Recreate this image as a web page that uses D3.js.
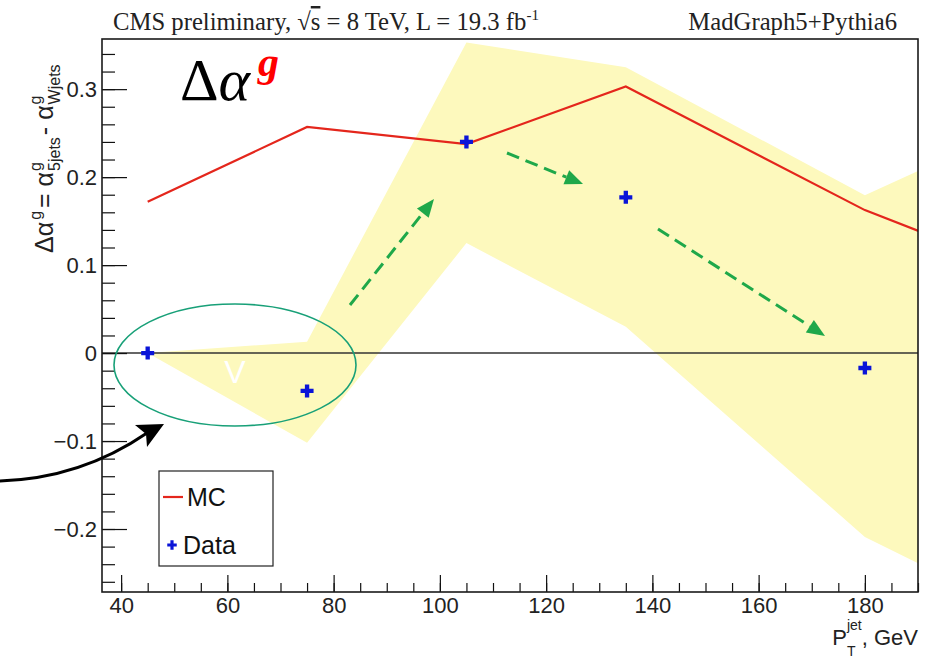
<!DOCTYPE html>
<html><head><meta charset="utf-8">
<script src="https://cdn.jsdelivr.net/npm/d3@7"></script>
<style>body{margin:0;background:#fff} svg{display:block}</style>
</head><body>
<svg id="chart" width="925" height="662"></svg>
<script>
// Jet pT bins (GeV) and measured Δα^g per bin
const ptBins = [45, 75, 105, 135, 180];
const dataValues = [0.0, -0.043, 0.240, 0.177, -0.017];
// MC prediction and its uncertainty band (the last bin lies past the axis range)
const mcPt = [45, 75, 105, 135, 180, 225];
const mcValues = [0.172, 0.257, 0.2375, 0.303, 0.1625, 0.057];
const bandUpper = [0.0, 0.013, 0.353, 0.325, 0.1795, 0.303];
const bandLower = [0.0, -0.102, 0.125, 0.030, -0.209, -0.344];
// Axis ticks
const xMajorTicks = [40, 60, 80, 100, 120, 140, 160, 180];
const xMinorTicks = d3.range(8, 39).map(i => i * 5);
const yMajorTicks = [-0.2, -0.1, 0, 0.1, 0.2, 0.3];
const yMinorTicks = d3.range(-13, 18).map(i => +(i * 0.02).toFixed(2));
// Legend entries
const legendLabels = ["MC", "Data"];

const svg = d3.select("#chart");
const frame = {left: 102, right: 918, top: 39, bottom: 592};

const x = d3.scaleLinear().domain([36.4, 190]).range([frame.left, frame.right]);
const y = d3.scaleLinear().domain([-0.2716, 0.357]).range([frame.bottom, frame.top]);

const SANS = "'Liberation Sans', Arial, sans-serif";
const SERIF = "'Liberation Serif', 'Times New Roman', serif";

svg.append("defs").append("clipPath").attr("id", "plotClip")
  .append("rect")
  .attr("x", frame.left).attr("y", frame.top)
  .attr("width", frame.right - frame.left).attr("height", frame.bottom - frame.top);

const plot = svg.append("g").attr("clip-path", "url(#plotClip)");

// Uncertainty band
const bandRows = mcPt.map((pt, i) => ({pt, lo: bandLower[i], hi: bandUpper[i]}));
plot.append("path")
  .datum(bandRows)
  .attr("fill", "#fdf9bd")
  .attr("d", d3.area().x(d => x(d.pt)).y0(d => y(d.lo)).y1(d => y(d.hi)));

// Zero line
plot.append("line")
  .attr("x1", frame.left).attr("x2", frame.right)
  .attr("y1", y(0)).attr("y2", y(0))
  .attr("stroke", "#333").attr("stroke-width", 1.5);

// MC line
plot.append("path")
  .datum(mcPt.map((pt, i) => ({pt, v: mcValues[i]})))
  .attr("fill", "none").attr("stroke", "#e4261c").attr("stroke-width", 2.2)
  .attr("d", d3.line().x(d => x(d.pt)).y(d => y(d.v)));

// Data markers
const cross = d3.symbol().type(d3.symbolCross).size(94);
plot.selectAll(".data-pt")
  .data(ptBins.map((pt, i) => ({pt, v: dataValues[i]})))
  .join("path")
  .attr("class", "data-pt")
  .attr("transform", d => `translate(${x(d.pt)},${y(d.v)})`)
  .attr("d", cross)
  .attr("fill", "#0a14d8");

// Axes (ROOT style: ticks pointing into the frame)
const axes = svg.append("g");
axes.append("g").attr("transform", `translate(${frame.left},0)`)
  .call(d3.axisLeft(y).tickValues(yMajorTicks).tickSize(-25).tickPadding(5)
    .tickFormat(d => d === 0 ? "0" : (d < 0 ? "\u2212" : "") + Math.abs(d).toFixed(1)));
axes.append("g").attr("transform", `translate(${frame.left},0)`)
  .call(d3.axisLeft(y).tickValues(yMinorTicks).tickSize(-13).tickFormat(""));
axes.append("g").attr("transform", `translate(0,${frame.bottom})`)
  .call(d3.axisBottom(x).tickValues(xMajorTicks).tickSize(-17).tickPadding(5));
axes.append("g").attr("transform", `translate(0,${frame.bottom})`)
  .call(d3.axisBottom(x).tickValues(xMinorTicks).tickSize(-9).tickFormat(""));

axes.selectAll(".domain").remove();
axes.selectAll(".tick line").attr("stroke", "#111").attr("stroke-width", 1.2);
axes.selectAll(".tick text")
  .attr("font-family", SANS).attr("font-size", 22).attr("fill", "#222");

// Frame
svg.append("rect")
  .attr("x", frame.left).attr("y", frame.top)
  .attr("width", frame.right - frame.left).attr("height", frame.bottom - frame.top)
  .attr("fill", "none").attr("stroke", "#1a1a1a").attr("stroke-width", 1.6);

// Header texts
const title = svg.append("text")
  .attr("x", 113).attr("y", 30)
  .attr("font-family", SERIF).attr("font-size", 24.7).attr("fill", "#222");
title.append("tspan").text("CMS preliminary,  \u221A");
title.append("tspan").attr("text-decoration", "overline").text("s");
title.append("tspan").text(" = 8 TeV, L = 19.3 fb");
title.append("tspan").attr("font-size", 15).attr("dy", -10).text("-1");

svg.append("text")
  .attr("x", 897).attr("y", 30).attr("text-anchor", "end")
  .attr("font-family", SERIF).attr("font-size", 24.7).attr("fill", "#222")
  .text("MadGraph5+Pythia6");

// Big Δα^g label
const big = svg.append("text").attr("x", 180).attr("y", 100)
  .attr("font-family", SERIF).attr("font-size", 60).attr("fill", "#000");
big.append("tspan").text("\u0394");
big.append("tspan").attr("font-style", "italic").text("\u03B1");
big.append("tspan").attr("font-style", "italic").attr("font-weight", "bold")
  .attr("fill", "#ff0000").attr("font-size", 42).attr("dx", 8).attr("dy", -24).text("g");

// Y axis title: pieces laid out along the rotated axis, subscripts stacked under superscripts
const yTitle = svg.append("g").attr("transform", "translate(53,253) rotate(-90)");
const yPieces = [
  {t: "\u0394\u03B1"},
  {t: "g", size: 16, shift: -12, gap: 2},
  {t: " = \u03B1", gap: 3},
  {t: "g", size: 16, shift: -12, gap: 1},
  {t: "5jets", size: 16, shift: 7},
  {t: " - \u03B1", gap: 2},
  {t: "g", size: 16, shift: -12, gap: 1},
  {t: "Wjets", size: 16, shift: 7}
];
(function () {
  let pos = 0;
  yPieces.forEach((p, i) => {
    const t = yTitle.append("text")
      .attr("font-family", SANS).attr("font-size", p.size || 25)
      .attr("fill", "#222").attr("y", p.shift || 0).text(p.t);
    const isSub = (p.shift || 0) > 0;
    const start = isSub ? yPieces[i - 1]._start : pos + (p.gap || 0);
    t.attr("x", start);
    const w = t.node().getComputedTextLength();
    p._start = start;
    pos = isSub ? Math.max(pos, start + w) : start + w;
  });
})();

// X axis title: P with T subscript and jet superscript, then ", GeV"
const xUnit = svg.append("text").attr("x", 918).attr("y", 645).attr("text-anchor", "end")
  .attr("font-family", SANS).attr("font-size", 22).attr("fill", "#222").text(", GeV");
const unitStart = 918 - xUnit.node().getComputedTextLength();
const xSup = svg.append("text").attr("y", 630).attr("text-anchor", "end")
  .attr("font-family", SANS).attr("font-size", 14).attr("fill", "#222").text("jet");
xSup.attr("x", unitStart);
const supStart = unitStart - xSup.node().getComputedTextLength();
svg.append("text").attr("x", supStart).attr("y", 656)
  .attr("font-family", SANS).attr("font-size", 14).attr("fill", "#222").text("T");
svg.append("text").attr("x", supStart).attr("y", 645).attr("text-anchor", "end")
  .attr("font-family", SANS).attr("font-size", 22).attr("fill", "#222").text("P");

// Legend
const legend = svg.append("g");
legend.append("rect").attr("x", 159).attr("y", 471).attr("width", 114).attr("height", 95)
  .attr("fill", "#fff").attr("stroke", "#222").attr("stroke-width", 1.2);
legend.append("line").attr("x1", 163).attr("x2", 183).attr("y1", 497).attr("y2", 497)
  .attr("stroke", "#e4261c").attr("stroke-width", 2.2);
legend.append("text").attr("x", 187).attr("y", 506)
  .attr("font-family", SANS).attr("font-size", 25).attr("fill", "#111").text(legendLabels[0]);
legend.append("path").attr("transform", "translate(172,545)")
  .attr("d", d3.symbol().type(d3.symbolCross).size(50)).attr("fill", "#0a14d8");
legend.append("text").attr("x", 183).attr("y", 554)
  .attr("font-family", SANS).attr("font-size", 25).attr("fill", "#111").text(legendLabels[1]);

// Annotations: ellipse around the low-pT dip with a "V" marker
svg.append("ellipse").attr("cx", 235).attr("cy", 365).attr("rx", 121).attr("ry", 61)
  .attr("fill", "none").attr("stroke", "#18a078").attr("stroke-width", 1.6);
svg.append("text").attr("x", 235).attr("y", 383).attr("text-anchor", "middle")
  .attr("font-family", SANS).attr("font-size", 32).attr("fill", "#fff").text("V");

// Curved pointer arrow
svg.append("path").attr("d", "M-2,481 Q80,479 147,433")
  .attr("fill", "none").attr("stroke", "#000").attr("stroke-width", 3);
svg.append("path").attr("d", "M164,424 L135,425 L146,434 L147,447 Z").attr("fill", "#000");

// Dashed trend arrows
function dashedArrow(x1, y1, x2, y2) {
  const ang = Math.atan2(y2 - y1, x2 - x1);
  const len = 18, half = 7.5;
  const bx = x2 - len * Math.cos(ang), by = y2 - len * Math.sin(ang);
  svg.append("line").attr("x1", x1).attr("y1", y1).attr("x2", bx).attr("y2", by)
    .attr("stroke", "#1fa84a").attr("stroke-width", 3).attr("stroke-dasharray", "13,7");
  const px = -Math.sin(ang) * half, py = Math.cos(ang) * half;
  svg.append("path")
    .attr("d", `M${x2},${y2} L${bx + px},${by + py} L${bx - px},${by - py} Z`)
    .attr("fill", "#1fa84a");
}
dashedArrow(350, 305, 434, 199);
dashedArrow(507, 153, 583, 184);
dashedArrow(658, 229, 825, 336);
</script>
</body></html>
